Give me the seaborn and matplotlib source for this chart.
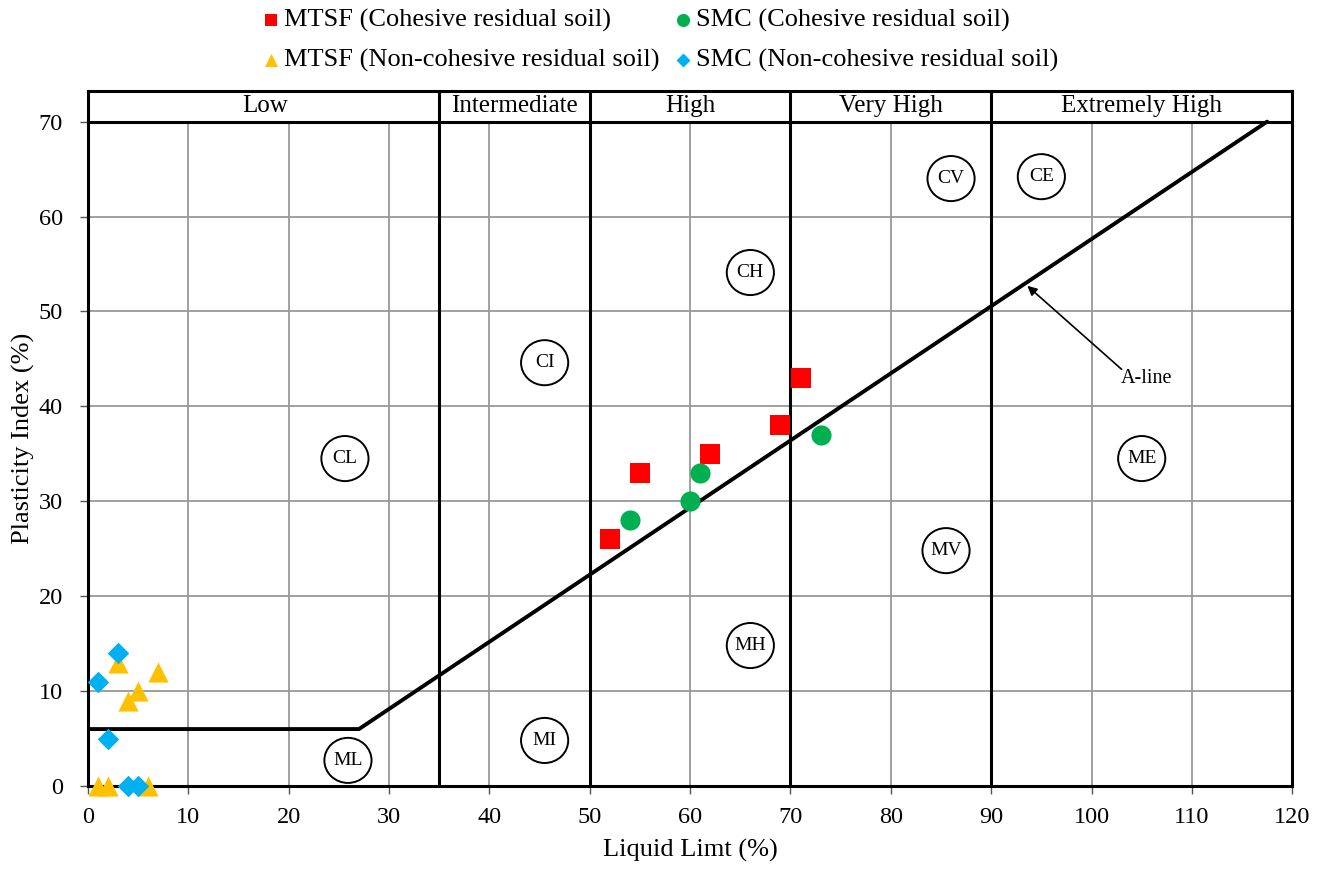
import numpy as np
import pandas as pd
import matplotlib
matplotlib.use("Agg")
import matplotlib.pyplot as plt
from matplotlib.patches import Ellipse
import seaborn as sns

# ---- data ----
mtsf_coh_ll = [52, 55, 62, 69, 71]
mtsf_coh_pi = [26, 33, 35, 38, 43]
smc_coh_ll = [54, 60, 61, 73]
smc_coh_pi = [28, 30, 33, 37]
mtsf_non_ll = [3, 7, 5, 4, 1, 2, 6]
mtsf_non_pi = [13, 12, 10, 9, 0, 0, 0]
smc_non_ll = [3, 1, 2, 4, 5]
smc_non_pi = [14, 11, 5, 0, 0]

series_names = ["MTSF (Cohesive residual soil)", "MTSF (Non-cohesive residual soil)",
                "SMC (Cohesive residual soil)", "SMC (Non-cohesive residual soil)"]

aline_ll = [0, 27, 117.5]
aline_pi = [6, 6, 70]

zone_bounds = [35, 50, 70, 90]
zone_names = ["Low", "Intermediate", "High", "Very High", "Extremely High"]
zone_centers = [17.6, 42.5, 60, 80, 105]

class_labels = ["CL", "ML", "CI", "MI", "CH", "MH", "CV", "MV", "CE", "ME"]
class_ll = [25.6, 25.9, 45.5, 45.5, 66, 66, 86, 85.5, 95, 105]
class_pi = [34.5, 2.7, 44.6, 4.8, 54.1, 14.8, 64, 24.8, 64.2, 34.5]

# ---- style ----
sns.set_theme(style="white")
plt.rcParams['font.family'] = ['Liberation Serif', 'DejaVu Serif']
plt.rcParams['font.size'] = 17
plt.rcParams['text.color'] = 'black'
plt.rcParams['axes.labelcolor'] = 'black'
plt.rcParams['xtick.labelcolor'] = 'black'
plt.rcParams['ytick.labelcolor'] = 'black'

df = pd.concat([
    pd.DataFrame({"LL": mtsf_coh_ll, "PI": mtsf_coh_pi, "Series": series_names[0]}),
    pd.DataFrame({"LL": mtsf_non_ll, "PI": mtsf_non_pi, "Series": series_names[1]}),
    pd.DataFrame({"LL": smc_coh_ll, "PI": smc_coh_pi, "Series": series_names[2]}),
    pd.DataFrame({"LL": smc_non_ll, "PI": smc_non_pi, "Series": series_names[3]}),
], ignore_index=True)

palette = {series_names[0]: "#FF0000", series_names[1]: "#FFC000",
           series_names[2]: "#00B050", series_names[3]: "#00B0F0"}
markers = {series_names[0]: "s", series_names[1]: "^",
           series_names[2]: "o", series_names[3]: "D"}
sizes = {series_names[0]: 190, series_names[1]: 210,
         series_names[2]: 210, series_names[3]: 120}

fig = plt.figure(figsize=(13.24, 8.69), dpi=100)
ax = fig.add_axes([0.0665, 0.0955, 0.9095, 0.7995])

ymax = 73.2
ax.set_xlim(0, 120)
ax.set_ylim(0, ymax)

# grid
for x in range(10, 120, 10):
    if x in zone_bounds:
        continue
    ax.plot([x, x], [0, 70], color="#999999", lw=1.3, zorder=1)
for y in range(10, 70, 10):
    ax.axhline(y, color="#999999", lw=1.3, zorder=1)

# zone boundaries and header
for xb in zone_bounds:
    ax.axvline(xb, color="black", lw=2.2, zorder=2)
ax.axhline(70, color="black", lw=2.2, zorder=2)
for name, xc in zip(zone_names, zone_centers):
    ax.text(xc, 71.6, name, ha="center", va="center", fontsize=18, color="black")

# A-line
ax.plot(aline_ll, aline_pi, color="black", lw=2.8, zorder=3)
ax.text(105.5, 42.9, "A-line", ha="center", va="center", fontsize=14.5, zorder=4,
        color="black")
ax.annotate("", xy=(93.6, 52.7), xytext=(103, 43.9),
            arrowprops=dict(arrowstyle="-|>", color="black", lw=1.2, mutation_scale=14,
                            shrinkA=0, shrinkB=0), zorder=4)

# class labels
for lab, x, y in zip(class_labels, class_ll, class_pi):
    ax.add_patch(Ellipse((x, y), width=4.7, height=4.75, fc="white", ec="black",
                         lw=1.4, zorder=4))
    ax.text(x, y, lab, ha="center", va="center", fontsize=14, zorder=5, color="black")

# scatter
for name in series_names:
    sub = df[df["Series"] == name]
    sns.scatterplot(data=sub, x="LL", y="PI", ax=ax, color=palette[name],
                    marker=markers[name], s=sizes[name], linewidth=0,
                    label=name, zorder=6, clip_on=False)

ax.set_xticks(range(0, 121, 10))
ax.set_yticks(range(0, 71, 10))
ax.tick_params(axis="both", which="both", direction="out", length=6, width=1,
               labelsize=17.5, bottom=True, left=True, color="#555555",
               labelcolor="black")
ax.tick_params(axis="x", pad=9)
ax.tick_params(axis="y", pad=12)
ax.set_xlabel("Liquid Limt (%)", fontsize=19, labelpad=8, color="black")
ax.set_ylabel("Plasticity Index (%)", fontsize=19, labelpad=3, color="black")
for sp in ax.spines.values():
    sp.set_color("black")
    sp.set_linewidth(2.2)

handles, labels = ax.get_legend_handles_labels()
if ax.legend_:
    ax.legend_.remove()
fig.legend(handles, labels, loc="upper center", bbox_to_anchor=(0.497, 1.018), ncol=2,
           frameon=False, fontsize=19, markerscale=0.65, handletextpad=0.0,
           columnspacing=0.4, labelspacing=0.62, handlelength=1.0, labelcolor="black")

fig.savefig("out.png", dpi=100)
